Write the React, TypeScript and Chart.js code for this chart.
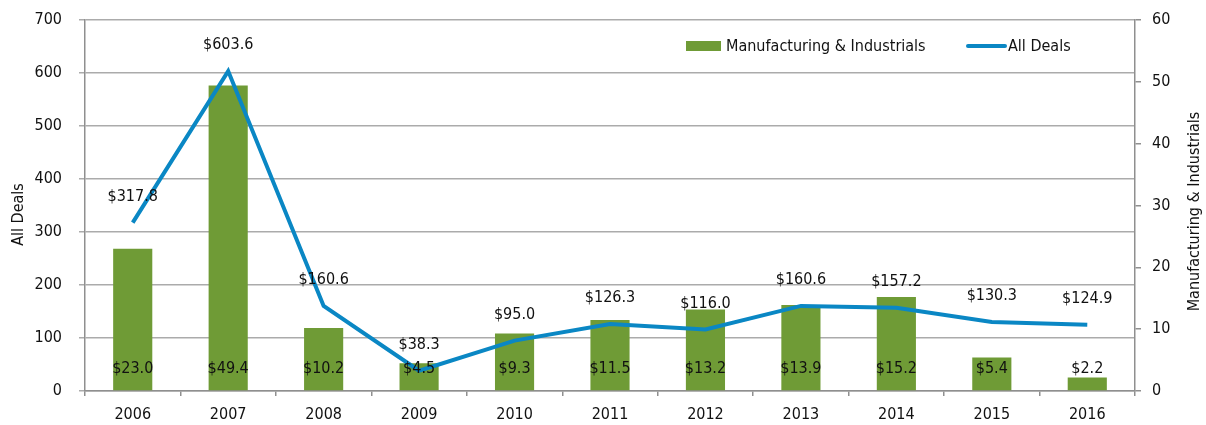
import React, { useEffect, useRef } from "react";
import { Chart, registerables } from "chart.js";

Chart.register(...registerables);

const years = ["2006", "2007", "2008", "2009", "2010", "2011", "2012", "2013", "2014", "2015", "2016"];
const allDeals = [317.8, 603.6, 160.6, 38.3, 95.0, 126.3, 116.0, 160.6, 157.2, 130.3, 124.9];
const manufacturing = [23.0, 49.4, 10.2, 4.5, 9.3, 11.5, 13.2, 13.9, 15.2, 5.4, 2.2];
const leftTitle = "All Deals";
const rightTitle = "Manufacturing & Industrials";

const FONT = "'DejaVu Sans Condensed', 'Liberation Sans Narrow', sans-serif";
const FS = 16;
const GREEN = "#6f9b36";
const BLUE = "#0a87c4";
const GRID = "#ababab";
const AXIS = "#8f8f8f";
const TEXT = "#111111";

const fmt = (v: number) => "$" + v.toFixed(1);

const overlayPlugin = {
  id: "overlay",
  afterDatasetsDraw(chart: any) {
    const ctx = chart.ctx;
    ctx.save();
    ctx.font = `${FS}px ${FONT}`;
    ctx.fillStyle = TEXT;
    ctx.textAlign = "center";
    ctx.textBaseline = "middle";
    chart.data.datasets.forEach((ds: any, i: number) => {
      const meta = chart.getDatasetMeta(i);
      meta.data.forEach((el: any, j: number) => {
        const v = ds.data[j];
        if (ds.type === "line") {
          ctx.fillText(fmt(v), el.x, el.y - 26);
        } else {
          ctx.fillText(fmt(v), el.x, el.base - 21);
        }
      });
    });
    ctx.restore();
  },
  afterDraw(chart: any) {
    const ctx = chart.ctx;
    const area = chart.chartArea;
    ctx.save();
    ctx.font = `${FS}px ${FONT}`;
    ctx.fillStyle = TEXT;
    ctx.textBaseline = "middle";
    // legend
    ctx.fillStyle = GREEN;
    ctx.fillRect(686, 41, 35, 10);
    ctx.fillStyle = TEXT;
    ctx.textAlign = "left";
    ctx.fillText(rightTitle, 726, 47);
    ctx.strokeStyle = BLUE;
    ctx.lineWidth = 4;
    ctx.lineCap = "round";
    ctx.beginPath();
    ctx.moveTo(968, 46);
    ctx.lineTo(1005, 46);
    ctx.stroke();
    ctx.fillText(leftTitle, 1008, 47);
    // axis titles
    const cy = (area.top + area.bottom) / 2;
    ctx.textAlign = "center";
    ctx.save();
    ctx.translate(19, cy + 9);
    ctx.rotate(-Math.PI / 2);
    ctx.fillText(leftTitle, 0, 0);
    ctx.restore();
    ctx.save();
    ctx.translate(1195, cy + 6);
    ctx.rotate(-Math.PI / 2);
    ctx.fillText(rightTitle, 0, 0);
    ctx.restore();
    ctx.restore();
  },
};

export default function App() {
  const ref = useRef<HTMLCanvasElement>(null);
  useEffect(() => {
    document.body.style.margin = "0";
    const canvas = ref.current!;
    const chart = new Chart(canvas, {
      type: "bar",
      data: {
        labels: years,
        datasets: [
          {
            type: "line",
            label: leftTitle,
            data: allDeals,
            yAxisID: "y",
            borderColor: BLUE,
            backgroundColor: BLUE,
            borderWidth: 4,
            pointRadius: 0,
            tension: 0,
            order: 0,
          } as any,
          {
            type: "bar",
            label: rightTitle,
            data: manufacturing,
            yAxisID: "y1",
            backgroundColor: GREEN,
            categoryPercentage: 1,
            barPercentage: 0.41,
            order: 1,
          },
        ],
      },
      options: {
        animation: false,
        responsive: false,
        layout: { padding: { top: 20, left: 0, right: 0, bottom: 0 } },
        plugins: { legend: { display: false }, tooltip: { enabled: false } },
        scales: {
          x: {
            offset: true,
            grid: { display: true, offset: true, drawOnChartArea: false, tickLength: 5, color: AXIS, lineWidth: 1.5 },
            border: { color: AXIS, width: 1.5 },
            ticks: { font: { family: FONT, size: FS }, color: TEXT, padding: 9 },
            afterFit: (s: any) => { s.height = 34; },
          },
          y: {
            position: "left",
            min: 0,
            max: 700,
            ticks: { stepSize: 100, font: { family: FONT, size: FS }, color: TEXT, padding: 17 },
            grid: { color: GRID, lineWidth: 1.5, tickLength: 6 },
            border: { color: AXIS, width: 1.5 },
            afterFit: (s: any) => { s.width = 85; s.paddingTop = 0; s.paddingBottom = 0; },
          },
          y1: {
            position: "right",
            min: 0,
            max: 60,
            ticks: { stepSize: 10, font: { family: FONT, size: FS }, color: TEXT, padding: 11 },
            grid: { drawOnChartArea: false, color: AXIS, lineWidth: 1.5, tickLength: 6 },
            border: { color: AXIS, width: 1.5 },
            afterFit: (s: any) => { s.width = 71; s.paddingTop = 0; s.paddingBottom = 0; },
          },
        },
      },
      plugins: [overlayPlugin],
    });
    return () => chart.destroy();
  }, []);
  return (
    <div style={{ width: 1206, height: 425, background: "#fff" }}>
      <canvas ref={ref} width={1206} height={425} style={{ display: "block" }} />
    </div>
  );
}
